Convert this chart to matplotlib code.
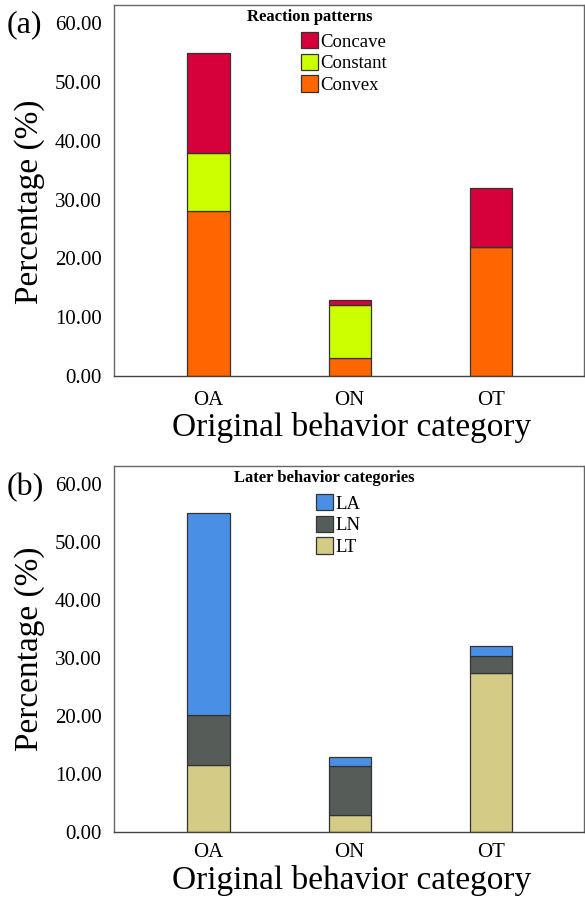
import numpy as np
import matplotlib.pyplot as plt
from matplotlib.patches import Patch

plt.rcParams['font.family'] = ['Liberation Serif', 'DejaVu Serif']

categories = ['OA', 'ON', 'OT']

# (a) reaction patterns, stacked bottom to top
convex = [28.0, 3.0, 22.0]
constant = [10.0, 9.0, 0.0]
concave = [17.0, 1.0, 10.0]

# (b) later behavior categories, stacked bottom to top
lt = [11.5, 2.8, 27.4]
ln = [8.7, 8.6, 2.9]
la = [34.8, 1.5, 1.7]

yticks = [0, 10, 20, 30, 40, 50, 60]

W, H = 585, 898
fig = plt.figure(figsize=(W / 100, H / 100), dpi=100)


def px(x0, y_top, w, h):
    return [x0 / W, 1 - (y_top + h) / H, w / W, h / H]


def draw_panel(ax, series, names, colors, title, leg_title_xy, leg_xy, tag, tag_y,
               tick_pad, xlab_y, ylab_y):
    x = np.arange(len(categories))
    bottom = np.zeros(len(categories))
    for vals, c in zip(series, colors):
        ax.bar(x, vals, 0.30, bottom=bottom, color=c, edgecolor='#333333',
               linewidth=0.9, zorder=2)
        bottom += np.array(vals)
    ax.set_xlim(-0.67, 2.66)
    ax.set_ylim(0, 63.1)
    ax.set_yticks(yticks)
    ax.set_yticklabels(['%.2f' % v for v in yticks])
    ax.set_xticks(x)
    ax.set_xticklabels(categories)
    ax.tick_params(axis='y', length=0, pad=9, labelsize=15)
    ax.tick_params(axis='x', length=0, pad=tick_pad, labelsize=15)
    for s in ax.spines.values():
        s.set_color('#666666')
        s.set_linewidth(1.0)
    ax.spines['bottom'].set_color('#444444')

    ax.set_ylabel('Percentage (%)', fontsize=24)
    ax.yaxis.set_label_coords(-0.147, ylab_y)
    ax.set_xlabel('Original behavior category', fontsize=24)
    ax.xaxis.set_label_coords(0.506, xlab_y)

    # legend: title drawn on its own, entries reversed so the top segment is listed first
    fig.text(leg_title_xy[0] / W, 1 - leg_title_xy[1] / H, title, fontsize=12,
             fontweight='bold', ha='center', va='center')
    handles = [Patch(facecolor=c, edgecolor='#333333', linewidth=0.9)
               for c in colors][::-1]
    fig.legend(handles, names[::-1], loc='upper left',
               bbox_to_anchor=(leg_xy[0] / W, 1 - leg_xy[1] / H),
               frameon=False, fontsize=13.5, borderpad=0, borderaxespad=0,
               handlelength=0.92, handleheight=0.95, handletextpad=0.12,
               labelspacing=0.17)

    fig.text(7 / W, 1 - tag_y / H, tag, fontsize=23, ha='left', va='center')


ax_a = fig.add_axes(px(114, 5, 470, 371))
draw_panel(ax_a, [convex, constant, concave], ['Convex', 'Constant', 'Concave'],
           ['#FF6600', '#CCFF00', '#D6003A'], 'Reaction patterns',
           (310, 17), (301, 32), '(a)', 25, 11, -0.096, 0.469)

ax_b = fig.add_axes(px(114, 465.7, 470, 366))
draw_panel(ax_b, [lt, ln, la], ['LT', 'LN', 'LA'],
           ['#D4CB86', '#565D58', '#4A8FE6'], 'Later behavior categories',
           (324, 478), (316, 494), '(b)', 488, 8, -0.09, 0.5)

fig.savefig('out.png', dpi=100)
